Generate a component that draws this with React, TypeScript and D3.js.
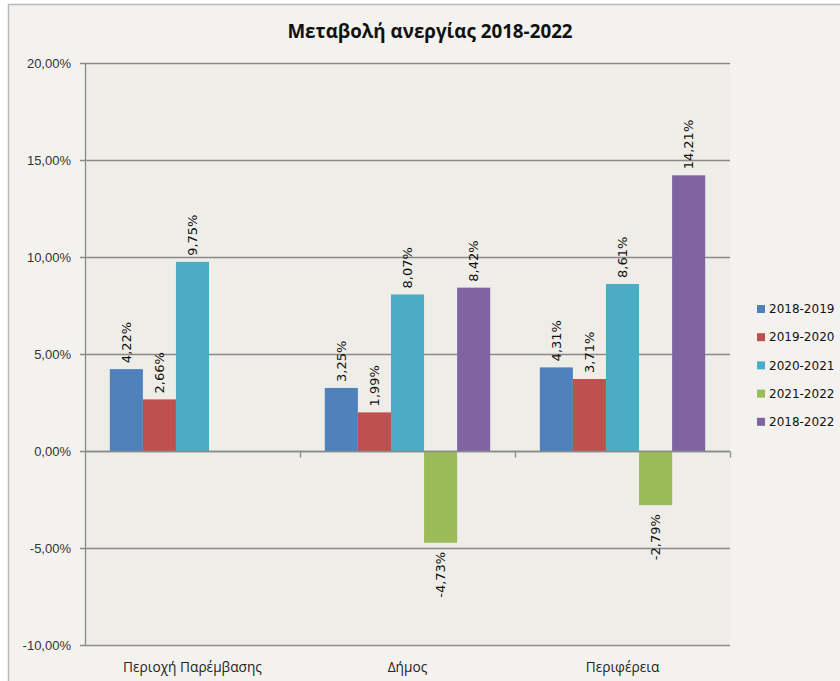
import React, { useEffect, useRef } from 'react';
import * as d3 from 'd3';

const categories = ['Περιοχή Παρέμβασης', 'Δήμος', 'Περιφέρεια'];
const seriesNames = ['2018-2019', '2019-2020', '2020-2021', '2021-2022', '2018-2022'];
const seriesColors = ['#4F81BD', '#C0504D', '#4BACC6', '#9BBB59', '#8064A2'];

// values in percent, per series, per category (null = no bar)
const v2018_2019 = [4.22, 3.25, 4.31];
const v2019_2020 = [2.66, 1.99, 3.71];
const v2020_2021 = [9.75, 8.07, 8.61];
const v2021_2022 = [null, -4.73, -2.79];
const v2018_2022 = [null, 8.42, 14.21];
const seriesValues = [v2018_2019, v2019_2020, v2020_2021, v2021_2022, v2018_2022];

const yTicks = [-10, -5, 0, 5, 10, 15, 20];

const greek = d3.formatLocale({
  decimal: ',', thousands: '.', grouping: [3], currency: ['', '€'], minus: '-',
});
const fmt = (v: number) => greek.format('.2f')(v) + '%';

const App: React.FC = () => {
  const svgRef = useRef<SVGSVGElement>(null);

  useEffect(() => {
    if (!svgRef.current) return;
    const svg = d3.select(svgRef.current);
    svg.selectAll('*').remove();

    const width = 840;
    const height = 681;
    const plot = { left: 85, right: 730, top: 63, bottom: 645 };

    svg.attr('width', width).attr('height', height);

    // Chart background + border
    svg.append('rect')
      .attr('x', 8.5).attr('y', 4.5)
      .attr('width', width).attr('height', height + 20)
      .attr('fill', '#F3F2EE')
      .attr('stroke', '#B9B9B9')
      .attr('stroke-width', 1.5);

    // Plot area
    svg.append('rect')
      .attr('x', plot.left).attr('y', plot.top)
      .attr('width', plot.right - plot.left).attr('height', plot.bottom - plot.top)
      .attr('fill', '#EEEDE7');

    const y = d3.scaleLinear().domain([-10, 20]).range([plot.bottom, plot.top]);
    const x0 = d3.scaleBand<string>().domain(categories).range([plot.left, plot.right]);
    const x1 = d3.scaleBand<string>().domain(seriesNames).range([0, x0.bandwidth()])
      .paddingInner(0).paddingOuter(0.75);

    // Gridlines
    svg.append('g')
      .selectAll('line')
      .data(yTicks)
      .enter().append('line')
      .attr('x1', plot.left - 5).attr('x2', plot.right)
      .attr('y1', d => Math.round(y(d)) + 0.5).attr('y2', d => Math.round(y(d)) + 0.5)
      .attr('stroke', '#8A8A8A')
      .attr('stroke-width', 1.3);

    // Y tick labels
    svg.append('g')
      .selectAll('text')
      .data(yTicks)
      .enter().append('text')
      .attr('x', 71)
      .attr('y', d => y(d))
      .attr('dy', '0.35em')
      .attr('text-anchor', 'end')
      .style('font-family', '"Liberation Sans", Arial, sans-serif')
      .style('font-size', '13px')
      .style('fill', '#333')
      .text(d => fmt(d));

    // Y axis line
    svg.append('line')
      .attr('x1', plot.left + 0.5).attr('x2', plot.left + 0.5)
      .attr('y1', plot.top).attr('y2', plot.bottom + 1)
      .attr('stroke', '#8A8A8A')
      .attr('stroke-width', 1.3);

    // Bars
    const groups = svg.append('g')
      .selectAll('g')
      .data(categories)
      .enter().append('g')
      .attr('transform', d => `translate(${x0(d)},0)`);

    groups.each(function (cat, ci) {
      const g = d3.select(this);
      seriesNames.forEach((s, si) => {
        const v = seriesValues[si][ci];
        if (v === null || v === undefined) return;
        const bx = x1(s) ?? 0;
        const top = y(Math.max(0, v));
        const bottom = y(Math.min(0, v));
        g.append('rect')
          .attr('x', bx).attr('y', top)
          .attr('width', x1.bandwidth()).attr('height', bottom - top)
          .attr('fill', seriesColors[si]);

        const cx = bx + x1.bandwidth() / 2;
        const ly = v >= 0 ? top - 6 : bottom + 9;
        g.append('text')
          .attr('transform', `translate(${cx},${ly}) rotate(-90)`)
          .attr('text-anchor', v >= 0 ? 'start' : 'end')
          .attr('dy', '0.35em')
          .style('font-family', '"DejaVu Sans", Verdana, sans-serif')
          .style('font-size', '13px')
          .style('fill', '#111')
          .text(fmt(v));
      });
    });

    // X axis at zero
    const zeroY = Math.round(y(0)) + 0.5;
    svg.append('line')
      .attr('x1', plot.left).attr('x2', plot.right)
      .attr('y1', zeroY).attr('y2', zeroY)
      .attr('stroke', '#8A8A8A')
      .attr('stroke-width', 1.3);

    const boundaries = categories.slice(1).map(c => x0(c) ?? 0).concat([plot.right]);
    svg.append('g')
      .selectAll('line')
      .data(boundaries)
      .enter().append('line')
      .attr('x1', d => Math.round(d) + 0.5).attr('x2', d => Math.round(d) + 0.5)
      .attr('y1', zeroY).attr('y2', zeroY + 6)
      .attr('stroke', '#8A8A8A')
      .attr('stroke-width', 1.3);

    // Category labels
    svg.append('g')
      .selectAll('text')
      .data(categories)
      .enter().append('text')
      .attr('x', d => (x0(d) ?? 0) + x0.bandwidth() / 2)
      .attr('y', 672)
      .attr('text-anchor', 'middle')
      .style('font-family', '"Open Sans", sans-serif')
      .style('font-size', '13.7px')
      .style('fill', '#222')
      .text(d => d);

    // Title
    svg.append('text')
      .attr('x', 430)
      .attr('y', 38)
      .attr('text-anchor', 'middle')
      .style('font-family', '"Open Sans", sans-serif')
      .style('font-size', '18.8px')
      .style('font-weight', 'bold')
      .style('fill', '#111')
      .text('Μεταβολή ανεργίας 2018-2022');

    // Legend
    const legend = svg.append('g')
      .selectAll('g')
      .data(seriesNames)
      .enter().append('g')
      .attr('transform', (d, i) => `translate(757,${309 + i * 28.2})`);

    legend.append('rect')
      .attr('x', 0).attr('y', -4)
      .attr('width', 8).attr('height', 8)
      .attr('fill', (d, i) => seriesColors[i]);

    legend.append('text')
      .attr('x', 12)
      .attr('y', 0)
      .attr('dy', '0.35em')
      .style('font-family', '"DejaVu Sans", Verdana, sans-serif')
      .style('font-size', '12px')
      .style('fill', '#111')
      .text(d => d);
  }, []);

  return <svg ref={svgRef} style={{ position: 'absolute', left: 0, top: 0 }} />;
};

export default App;
